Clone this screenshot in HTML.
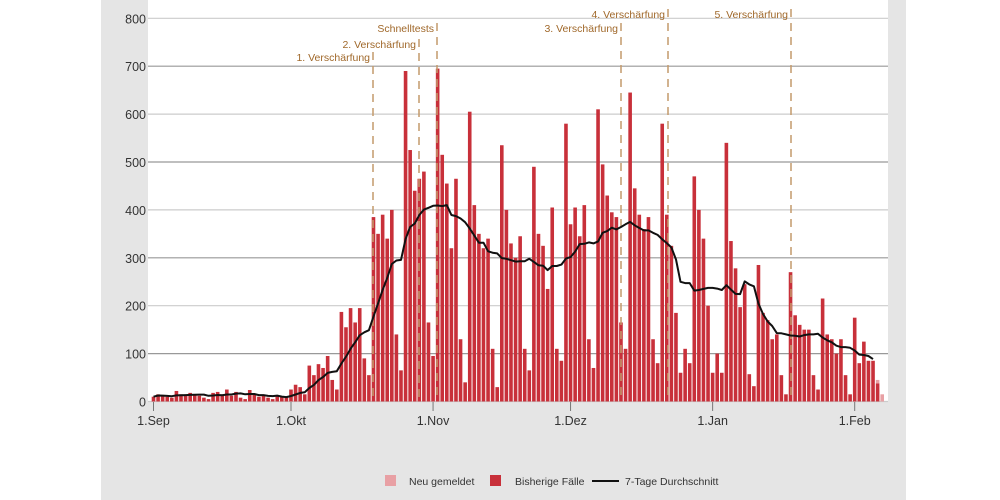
<!DOCTYPE html>
<html><head><meta charset="utf-8">
<style>
html,body{margin:0;padding:0;background:#fff;}
svg{display:block;font-family:"Liberation Sans",Arial,sans-serif;}
</style></head>
<body>
<svg id="c" width="1000" height="500" xmlns="http://www.w3.org/2000/svg">
<rect x="101" y="0" width="805" height="500" fill="#e5e5e5"/>
<rect x="148" y="0" width="740" height="402" fill="#fff"/>
<g id="grid"></g>
<g id="bars"></g>
<g id="ann"></g>
<path id="avg" fill="none" stroke="#111" stroke-width="2" stroke-linejoin="round"/>
<g id="axes" font-size="12.5" fill="#333"></g>
<g font-size="10.5" fill="#333">
<rect x="385" y="475" width="11" height="11" fill="#e8a0a4"/>
<text x="409" y="485">Neu gemeldet</text>
<rect x="490" y="475" width="11" height="11" fill="#c8303a"/>
<text x="515" y="485">Bisherige Fälle</text>
<line x1="592" y1="481" x2="619" y2="481" stroke="#111" stroke-width="2"/>
<text x="625" y="485">7-Tage Durchschnitt</text>
</g>
</svg>
<script>
var d=[10,15,12,10,8,22,15,12,18,14,12,8,5,18,20,15,25,12,20,8,5,24,15,10,12,8,5,12,10,8,
25,35,30,15,75,55,78,70,95,45,25,187,155,195,165,195,90,55,
385,350,390,340,400,140,65,690,525,440,465,480,165,95,695,515,455,320,465,130,40,605,410,350,320,340,110,30,
535,400,330,300,345,110,65,490,350,325,235,405,110,85,580,370,405,345,410,130,70,610,495,430,395,385,165,110,
645,445,390,360,385,130,80,580,390,325,185,60,110,80,470,400,340,200,60,100,60,540,335,278,197,245,57,32,
285,185,170,130,140,55,15,270,180,160,150,150,55,25,215,140,130,100,130,55,15,175,80,125,85,85,38,0];
var ns="http://www.w3.org/2000/svg";
function el(p,t,a,txt){var e=document.createElementNS(ns,t);for(var k in a)e.setAttribute(k,a[k]);if(txt!=null)e.textContent=txt;p.appendChild(e);return e;}
var X=function(i){return 153.5+4.583*i;},Y=function(v){return 401.5-v*0.479;};
var g=document.getElementById('grid'),ax=document.getElementById('axes');
for(var v=0;v<=800;v+=100){var y=Y(v);el(g,'line',{x1:148,x2:888,y1:y,y2:y,stroke:(v/100)%2?'#999':'#ccc','stroke-width':1.2});
el(ax,'text',{x:146,y:y+5,'text-anchor':'end'},String(v));}
var b=document.getElementById('bars');
for(var i=0;i<d.length;i++){var h=d[i]*0.479;if(h>0)el(b,'rect',{x:X(i)-1.8,y:401.5-h,width:3.6,height:h,fill:'#c8303a'});}
el(b,'rect',{x:X(158)-1.8,y:Y(45),width:3.6,height:Y(38)-Y(45),fill:'#e8a0a4'});
el(b,'rect',{x:X(159)-1.8,y:Y(15),width:3.6,height:15*0.479,fill:'#e8a0a4'});
var p='';for(var i=0;i<=157;i++){var s=0,n=0;for(var j=Math.max(0,i-6);j<=i;j++){s+=d[j];n++;}p+=(i?'L':'M')+X(i).toFixed(1)+','+Y(s/n).toFixed(1);}
document.getElementById('avg').setAttribute('d',p);
var labs=[['1.Sep',0],['1.Okt',30],['1.Nov',61],['1.Dez',91],['1.Jan',122],['1.Feb',153]];
labs.forEach(function(l){var x=X(l[1]);el(ax,'line',{x1:x,x2:x,y1:402,y2:411,stroke:'#777'});el(ax,'text',{x:x,y:425,'text-anchor':'middle'},l[0]);});
var an=document.getElementById('ann');
[['1. Verschärfung',373,61],['2. Verschärfung',419,48],['Schnelltests',437,32],['3. Verschärfung',621,32],['4. Verschärfung',668,18],['5. Verschärfung',791,18]].forEach(function(a){
el(an,'line',{x1:a[1],x2:a[1],y1:a[2]-9,y2:401,stroke:'#c49a6c','stroke-width':1.5,'stroke-dasharray':'8,6'});
el(an,'text',{x:a[1]-3,y:a[2],'text-anchor':'end','font-size':10.5,fill:'#a0682a'},a[0]);});
</script>
</body></html>
